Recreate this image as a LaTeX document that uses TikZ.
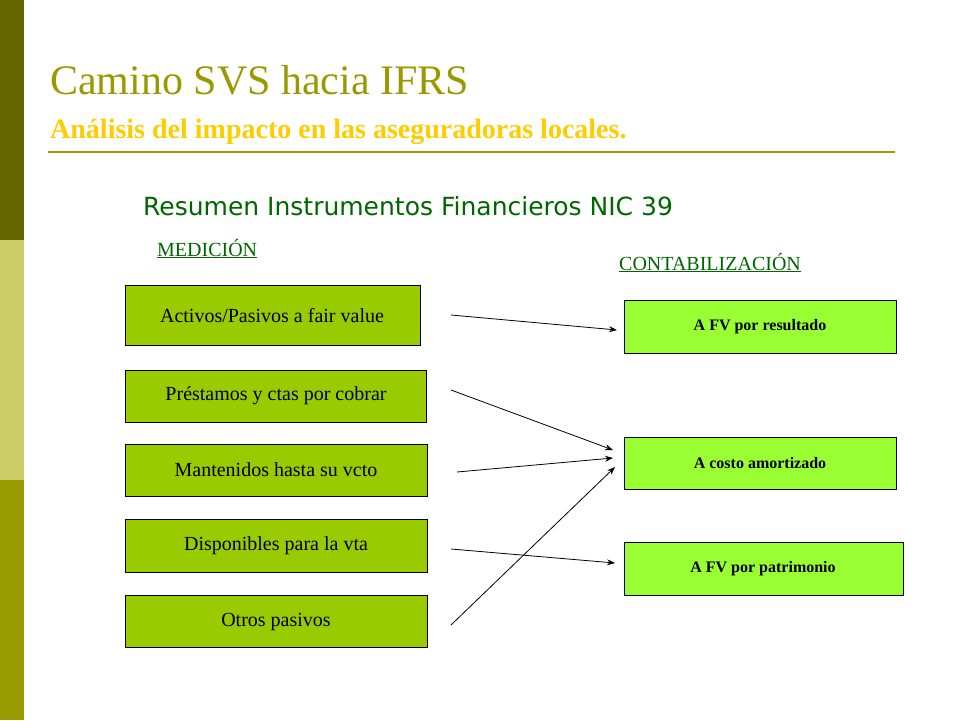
\documentclass[tikz,border=0pt]{standalone}
\usepackage{fontspec}
\setmainfont{Liberation Serif}
\newfontfamily\verd{DejaVu Sans}
\usetikzlibrary{arrows.meta}
\definecolor{olivea}{HTML}{666600}
\definecolor{oliveb}{HTML}{CCCC66}
\definecolor{olivec}{HTML}{999900}
\definecolor{titc}{HTML}{999900}
\definecolor{subc}{HTML}{FFCC00}
\definecolor{dgreen}{HTML}{006600}
\definecolor{lbox}{HTML}{99CC00}
\definecolor{rbox}{HTML}{99FF33}
\begin{document}
\begin{tikzpicture}[x=1pt,y=-1pt,
 lb/.style={draw=black,fill=lbox,font=\fontsize{20}{22}\selectfont},
 rb/.style={draw=black,fill=rbox,font=\fontsize{16}{18}\selectfont\bfseries},
 ar/.style={-{Stealth[length=8pt,width=6pt]},line width=0.8pt}]
\useasboundingbox (0,0) rectangle (960,720);
\fill[olivea] (0,0) rectangle (24,240);
\fill[oliveb] (0,240) rectangle (24,480);
\fill[olivec] (0,480) rectangle (24,720);
\node[anchor=base west,text=titc,font=\fontsize{42}{44}\selectfont,inner sep=0] (t) at (50,94) {Camino SVS hacia IFRS};
\node[anchor=base west,text=subc,font=\fontsize{28}{30}\selectfont\bfseries,inner sep=0] (s) at (50,138) {Análisis del impacto en las aseguradoras locales.};
\draw[titc,line width=2.5pt] (48,152) -- (895,152);
\node[anchor=base west,text=dgreen,font=\verd\fontsize{25}{27}\selectfont,inner sep=0] (r) at (143,215) {Resumen Instrumentos Financieros NIC 39};
\node[anchor=base west,text=dgreen,font=\fontsize{20}{22}\selectfont,inner sep=0] (m) at (157,256) {\underline{MEDICIÓN}};
\node[anchor=base west,text=dgreen,font=\fontsize{20}{22}\selectfont,inner sep=0] (c) at (619,270) {\underline{CONTABILIZACIÓN}};
\path[lb] (125,285) rectangle (420,345);
\node[font=\fontsize{20}{22}\selectfont] (l1) at (272,316) {Activos/Pasivos a fair value};
\path[lb] (125,370) rectangle (426,422); \node[font=\fontsize{20}{22}\selectfont] (l2) at (276,396) {Préstamos y ctas por cobrar};
\path[lb] (125,444) rectangle (427,496); \node[font=\fontsize{20}{22}\selectfont] (l3) at (276,470) {Mantenidos hasta su vcto};
\path[lb] (125,519) rectangle (427,572); \node[font=\fontsize{20}{22}\selectfont] (l4) at (276,546) {Disponibles para la vta};
\path[lb] (125,595) rectangle (427,647); \node[font=\fontsize{20}{22}\selectfont] (l5) at (276,622) {Otros pasivos};
\path[rb] (624,300) rectangle (896,353); \node[font=\fontsize{16}{18}\selectfont\bfseries] (r1) at (760,327) {A FV por resultado};
\path[rb] (624,437) rectangle (896,489); \node[font=\fontsize{16}{18}\selectfont\bfseries] (r2) at (760,463) {A costo amortizado};
\path[rb] (624,542) rectangle (903,595); \node[font=\fontsize{16}{18}\selectfont\bfseries] (r3) at (763,569) {A FV por patrimonio};
\coordinate (a1) at (451,315); \coordinate (b1) at (617,330);
\coordinate (a2) at (451,390); \coordinate (b2) at (613,450);
\coordinate (a3) at (457,472); \coordinate (b3) at (613,458);
\coordinate (a4) at (451,549); \coordinate (b4) at (615,563);
\coordinate (a5) at (451,625); \coordinate (b5) at (615,467);
\foreach \i in {1,...,5} \draw[ar] (a\i) -- (b\i);
\end{tikzpicture}
\end{document}
